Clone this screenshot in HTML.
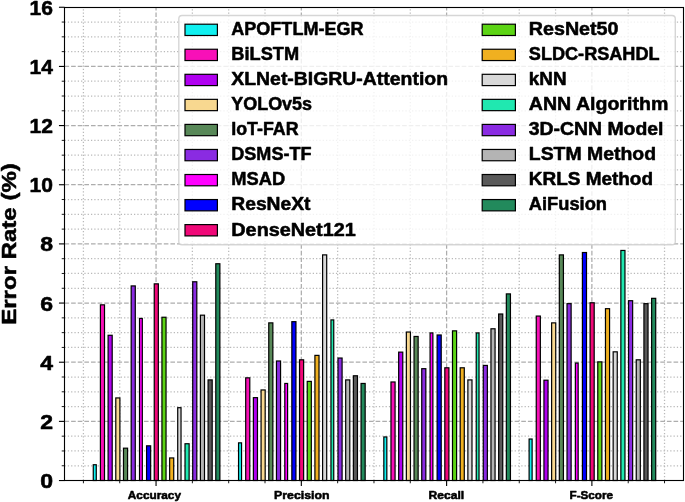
<!DOCTYPE html>
<html><head><meta charset="utf-8"><title>Error Rate</title>
<style>html,body{margin:0;padding:0;background:#fff;overflow:hidden}svg{display:block;will-change:transform}text{font-family:"Liberation Sans",sans-serif;font-weight:bold;fill:#000;stroke:#000;stroke-width:0.55px;stroke-linejoin:round}</style></head><body>
<svg width="685" height="502" viewBox="0 0 685 502">
<rect x="0" y="0" width="685" height="502" fill="#fff"/>
<g fill="none"><path d="M64.5 465.75H683.5" stroke="#b9b9b9" stroke-width="1.25" stroke-dasharray="1.25 2.06"/><path d="M64.5 450.96H683.5" stroke="#b9b9b9" stroke-width="1.25" stroke-dasharray="1.25 2.06"/><path d="M64.5 436.17H683.5" stroke="#b9b9b9" stroke-width="1.25" stroke-dasharray="1.25 2.06"/><path d="M64.5 406.59H683.5" stroke="#b9b9b9" stroke-width="1.25" stroke-dasharray="1.25 2.06"/><path d="M64.5 391.8H683.5" stroke="#b9b9b9" stroke-width="1.25" stroke-dasharray="1.25 2.06"/><path d="M64.5 377.01H683.5" stroke="#b9b9b9" stroke-width="1.25" stroke-dasharray="1.25 2.06"/><path d="M64.5 347.43H683.5" stroke="#b9b9b9" stroke-width="1.25" stroke-dasharray="1.25 2.06"/><path d="M64.5 332.64H683.5" stroke="#b9b9b9" stroke-width="1.25" stroke-dasharray="1.25 2.06"/><path d="M64.5 317.85H683.5" stroke="#b9b9b9" stroke-width="1.25" stroke-dasharray="1.25 2.06"/><path d="M64.5 288.27H683.5" stroke="#b9b9b9" stroke-width="1.25" stroke-dasharray="1.25 2.06"/><path d="M64.5 273.48H683.5" stroke="#b9b9b9" stroke-width="1.25" stroke-dasharray="1.25 2.06"/><path d="M64.5 258.69H683.5" stroke="#b9b9b9" stroke-width="1.25" stroke-dasharray="1.25 2.06"/><path d="M64.5 229.11H683.5" stroke="#b9b9b9" stroke-width="1.25" stroke-dasharray="1.25 2.06"/><path d="M64.5 214.32H683.5" stroke="#b9b9b9" stroke-width="1.25" stroke-dasharray="1.25 2.06"/><path d="M64.5 199.53H683.5" stroke="#b9b9b9" stroke-width="1.25" stroke-dasharray="1.25 2.06"/><path d="M64.5 169.95H683.5" stroke="#b9b9b9" stroke-width="1.25" stroke-dasharray="1.25 2.06"/><path d="M64.5 155.16H683.5" stroke="#b9b9b9" stroke-width="1.25" stroke-dasharray="1.25 2.06"/><path d="M64.5 140.37H683.5" stroke="#b9b9b9" stroke-width="1.25" stroke-dasharray="1.25 2.06"/><path d="M64.5 110.79H683.5" stroke="#b9b9b9" stroke-width="1.25" stroke-dasharray="1.25 2.06"/><path d="M64.5 96H683.5" stroke="#b9b9b9" stroke-width="1.25" stroke-dasharray="1.25 2.06"/><path d="M64.5 81.21H683.5" stroke="#b9b9b9" stroke-width="1.25" stroke-dasharray="1.25 2.06"/><path d="M64.5 51.63H683.5" stroke="#b9b9b9" stroke-width="1.25" stroke-dasharray="1.25 2.06"/><path d="M64.5 36.84H683.5" stroke="#b9b9b9" stroke-width="1.25" stroke-dasharray="1.25 2.06"/><path d="M64.5 22.05H683.5" stroke="#b9b9b9" stroke-width="1.25" stroke-dasharray="1.25 2.06"/><path d="M83.41 480.5V7.5" stroke="#b9b9b9" stroke-width="1.25" stroke-dasharray="1.25 2.06"/><path d="M119.73 480.5V7.5" stroke="#b9b9b9" stroke-width="1.25" stroke-dasharray="1.25 2.06"/><path d="M192.37 480.5V7.5" stroke="#b9b9b9" stroke-width="1.25" stroke-dasharray="1.25 2.06"/><path d="M228.69 480.5V7.5" stroke="#b9b9b9" stroke-width="1.25" stroke-dasharray="1.25 2.06"/><path d="M265.01 480.5V7.5" stroke="#b9b9b9" stroke-width="1.25" stroke-dasharray="1.25 2.06"/><path d="M337.65 480.5V7.5" stroke="#b9b9b9" stroke-width="1.25" stroke-dasharray="1.25 2.06"/><path d="M373.97 480.5V7.5" stroke="#b9b9b9" stroke-width="1.25" stroke-dasharray="1.25 2.06"/><path d="M410.29 480.5V7.5" stroke="#b9b9b9" stroke-width="1.25" stroke-dasharray="1.25 2.06"/><path d="M482.93 480.5V7.5" stroke="#b9b9b9" stroke-width="1.25" stroke-dasharray="1.25 2.06"/><path d="M519.25 480.5V7.5" stroke="#b9b9b9" stroke-width="1.25" stroke-dasharray="1.25 2.06"/><path d="M555.57 480.5V7.5" stroke="#b9b9b9" stroke-width="1.25" stroke-dasharray="1.25 2.06"/><path d="M628.21 480.5V7.5" stroke="#b9b9b9" stroke-width="1.25" stroke-dasharray="1.25 2.06"/><path d="M664.53 480.5V7.5" stroke="#b9b9b9" stroke-width="1.25" stroke-dasharray="1.25 2.06"/><path d="M64.5 421.38H683.5" stroke="#adadad" stroke-width="1.25" stroke-dasharray="4.62 2.00"/><path d="M64.5 362.22H683.5" stroke="#adadad" stroke-width="1.25" stroke-dasharray="4.62 2.00"/><path d="M64.5 303.06H683.5" stroke="#adadad" stroke-width="1.25" stroke-dasharray="4.62 2.00"/><path d="M64.5 243.9H683.5" stroke="#adadad" stroke-width="1.25" stroke-dasharray="4.62 2.00"/><path d="M64.5 184.74H683.5" stroke="#adadad" stroke-width="1.25" stroke-dasharray="4.62 2.00"/><path d="M64.5 125.58H683.5" stroke="#adadad" stroke-width="1.25" stroke-dasharray="4.62 2.00"/><path d="M64.5 66.42H683.5" stroke="#adadad" stroke-width="1.25" stroke-dasharray="4.62 2.00"/><path d="M156.05 480.5V7.5" stroke="#adadad" stroke-width="1.25" stroke-dasharray="4.62 2.00"/><path d="M301.33 480.5V7.5" stroke="#adadad" stroke-width="1.25" stroke-dasharray="4.62 2.00"/><path d="M446.61 480.5V7.5" stroke="#adadad" stroke-width="1.25" stroke-dasharray="4.62 2.00"/><path d="M591.89 480.5V7.5" stroke="#adadad" stroke-width="1.25" stroke-dasharray="4.62 2.00"/></g>
<g stroke="#000" stroke-width="1.2"><rect x="93.27" y="464.74" width="3" height="15.76" fill="#10f0f0"/><rect x="100.41" y="304.84" width="4.1" height="175.66" fill="#f810b8"/><rect x="108.1" y="335.28" width="4.1" height="145.22" fill="#b000f0"/><rect x="115.79" y="397.94" width="4.1" height="82.56" fill="#f8d890"/><rect x="123.48" y="448.18" width="4.1" height="32.32" fill="#588858"/><rect x="131.18" y="285.92" width="4.1" height="194.58" fill="#8a2be2"/><rect x="139.52" y="318.43" width="2.8" height="162.07" fill="#ff00ff"/><rect x="146.56" y="445.82" width="4.1" height="34.68" fill="#0000ff"/><rect x="154.25" y="283.85" width="4.1" height="196.65" fill="#f00878"/><rect x="161.94" y="317.25" width="4.1" height="163.25" fill="#5cd414"/><rect x="169.63" y="457.94" width="4.1" height="22.56" fill="#f0b020"/><rect x="177.72" y="407.69" width="3.3" height="72.81" fill="#d8d8d8"/><rect x="185.02" y="443.75" width="4.1" height="36.75" fill="#20e8b0"/><rect x="192.71" y="281.78" width="4.1" height="198.72" fill="#8a2be2"/><rect x="200.4" y="315.18" width="4.1" height="165.32" fill="#b4b4b4"/><rect x="208.09" y="379.91" width="4.1" height="100.59" fill="#595959"/><rect x="215.78" y="263.75" width="4.1" height="216.75" fill="#228a5c"/><rect x="238.55" y="442.86" width="3" height="37.64" fill="#10f0f0"/><rect x="245.69" y="377.84" width="4.1" height="102.66" fill="#f810b8"/><rect x="253.38" y="397.64" width="4.1" height="82.86" fill="#b000f0"/><rect x="261.07" y="389.96" width="4.1" height="90.54" fill="#f8d890"/><rect x="268.76" y="322.87" width="4.1" height="157.63" fill="#588858"/><rect x="276.46" y="360.99" width="4.1" height="119.51" fill="#8a2be2"/><rect x="284.8" y="383.46" width="2.8" height="97.04" fill="#ff00ff"/><rect x="291.84" y="321.68" width="4.1" height="158.82" fill="#0000ff"/><rect x="299.53" y="359.81" width="4.1" height="120.69" fill="#f00878"/><rect x="307.22" y="381.39" width="4.1" height="99.11" fill="#5cd414"/><rect x="314.91" y="355.38" width="4.1" height="125.12" fill="#f0b020"/><rect x="322.6" y="254.89" width="4.1" height="225.61" fill="#d8d8d8"/><rect x="330.95" y="319.91" width="2.8" height="160.59" fill="#20e8b0"/><rect x="337.99" y="358.04" width="4.1" height="122.46" fill="#8a2be2"/><rect x="345.68" y="379.91" width="4.1" height="100.59" fill="#b4b4b4"/><rect x="353.37" y="375.77" width="4.1" height="104.73" fill="#595959"/><rect x="361.06" y="383.46" width="4.1" height="97.04" fill="#228a5c"/><rect x="383.83" y="436.95" width="3" height="43.55" fill="#10f0f0"/><rect x="390.97" y="381.98" width="4.1" height="98.52" fill="#f810b8"/><rect x="398.66" y="352.13" width="4.1" height="128.37" fill="#b000f0"/><rect x="406.35" y="332.03" width="4.1" height="148.47" fill="#f8d890"/><rect x="414.04" y="336.46" width="4.1" height="144.04" fill="#588858"/><rect x="421.74" y="368.68" width="4.1" height="111.82" fill="#8a2be2"/><rect x="430.08" y="332.92" width="2.8" height="147.58" fill="#ff00ff"/><rect x="437.12" y="334.98" width="4.1" height="145.52" fill="#0000ff"/><rect x="444.81" y="367.79" width="4.1" height="112.71" fill="#f00878"/><rect x="452.5" y="330.85" width="4.1" height="149.65" fill="#5cd414"/><rect x="460.19" y="367.79" width="4.1" height="112.71" fill="#f0b020"/><rect x="467.88" y="379.91" width="4.1" height="100.59" fill="#d8d8d8"/><rect x="476.23" y="332.92" width="2.8" height="147.58" fill="#20e8b0"/><rect x="483.27" y="365.43" width="4.1" height="115.07" fill="#8a2be2"/><rect x="490.96" y="328.78" width="4.1" height="151.72" fill="#b4b4b4"/><rect x="498.65" y="314" width="4.1" height="166.5" fill="#595959"/><rect x="506.34" y="293.9" width="4.1" height="186.6" fill="#228a5c"/><rect x="529.11" y="439.02" width="3" height="41.48" fill="#10f0f0"/><rect x="536.25" y="316.07" width="4.1" height="164.43" fill="#f810b8"/><rect x="543.94" y="380.21" width="4.1" height="100.29" fill="#b000f0"/><rect x="551.63" y="322.87" width="4.1" height="157.63" fill="#f8d890"/><rect x="559.32" y="254.89" width="4.1" height="225.61" fill="#588858"/><rect x="567.02" y="303.66" width="4.1" height="176.84" fill="#8a2be2"/><rect x="575.36" y="363.06" width="2.8" height="117.44" fill="#ff00ff"/><rect x="582.4" y="252.52" width="4.1" height="227.98" fill="#0000ff"/><rect x="590.09" y="302.77" width="4.1" height="177.73" fill="#f00878"/><rect x="597.78" y="361.88" width="4.1" height="118.62" fill="#5cd414"/><rect x="605.47" y="308.68" width="4.1" height="171.82" fill="#f0b020"/><rect x="613.16" y="351.83" width="4.1" height="128.67" fill="#d8d8d8"/><rect x="620.86" y="250.45" width="4.1" height="230.05" fill="#20e8b0"/><rect x="628.55" y="300.7" width="4.1" height="179.8" fill="#8a2be2"/><rect x="636.24" y="359.81" width="4.1" height="120.69" fill="#b4b4b4"/><rect x="643.93" y="303.66" width="4.1" height="176.84" fill="#595959"/><rect x="651.62" y="298.34" width="4.1" height="182.16" fill="#228a5c"/></g>
<g stroke="#000" fill="none"><path d="M64.5 480.54H58.94" stroke-width="1.11"/><path d="M64.5 465.75H61.72" stroke-width="0.9"/><path d="M64.5 450.96H61.72" stroke-width="0.9"/><path d="M64.5 436.17H61.72" stroke-width="0.9"/><path d="M64.5 421.38H58.94" stroke-width="1.11"/><path d="M64.5 406.59H61.72" stroke-width="0.9"/><path d="M64.5 391.8H61.72" stroke-width="0.9"/><path d="M64.5 377.01H61.72" stroke-width="0.9"/><path d="M64.5 362.22H58.94" stroke-width="1.11"/><path d="M64.5 347.43H61.72" stroke-width="0.9"/><path d="M64.5 332.64H61.72" stroke-width="0.9"/><path d="M64.5 317.85H61.72" stroke-width="0.9"/><path d="M64.5 303.06H58.94" stroke-width="1.11"/><path d="M64.5 288.27H61.72" stroke-width="0.9"/><path d="M64.5 273.48H61.72" stroke-width="0.9"/><path d="M64.5 258.69H61.72" stroke-width="0.9"/><path d="M64.5 243.9H58.94" stroke-width="1.11"/><path d="M64.5 229.11H61.72" stroke-width="0.9"/><path d="M64.5 214.32H61.72" stroke-width="0.9"/><path d="M64.5 199.53H61.72" stroke-width="0.9"/><path d="M64.5 184.74H58.94" stroke-width="1.11"/><path d="M64.5 169.95H61.72" stroke-width="0.9"/><path d="M64.5 155.16H61.72" stroke-width="0.9"/><path d="M64.5 140.37H61.72" stroke-width="0.9"/><path d="M64.5 125.58H58.94" stroke-width="1.11"/><path d="M64.5 110.79H61.72" stroke-width="0.9"/><path d="M64.5 96H61.72" stroke-width="0.9"/><path d="M64.5 81.21H61.72" stroke-width="0.9"/><path d="M64.5 66.42H58.94" stroke-width="1.11"/><path d="M64.5 51.63H61.72" stroke-width="0.9"/><path d="M64.5 36.84H61.72" stroke-width="0.9"/><path d="M64.5 22.05H61.72" stroke-width="0.9"/><path d="M64.5 7.26H58.94" stroke-width="1.11"/><path d="M83.41 480.5V483.28" stroke-width="0.9"/><path d="M119.73 480.5V483.28" stroke-width="0.9"/><path d="M156.05 480.5V486.06" stroke-width="1.11"/><path d="M192.37 480.5V483.28" stroke-width="0.9"/><path d="M228.69 480.5V483.28" stroke-width="0.9"/><path d="M265.01 480.5V483.28" stroke-width="0.9"/><path d="M301.33 480.5V486.06" stroke-width="1.11"/><path d="M337.65 480.5V483.28" stroke-width="0.9"/><path d="M373.97 480.5V483.28" stroke-width="0.9"/><path d="M410.29 480.5V483.28" stroke-width="0.9"/><path d="M446.61 480.5V486.06" stroke-width="1.11"/><path d="M482.93 480.5V483.28" stroke-width="0.9"/><path d="M519.25 480.5V483.28" stroke-width="0.9"/><path d="M555.57 480.5V483.28" stroke-width="0.9"/><path d="M591.89 480.5V486.06" stroke-width="1.11"/><path d="M628.21 480.5V483.28" stroke-width="0.9"/><path d="M664.53 480.5V483.28" stroke-width="0.9"/></g>
<rect x="64.5" y="7.5" width="619" height="473" fill="none" stroke="#000" stroke-width="1.11"/>
<text x="53.1" y="488.04" font-size="20.2" text-anchor="end" textLength="12.8" lengthAdjust="spacingAndGlyphs">0</text>
<text x="53.1" y="428.88" font-size="20.2" text-anchor="end" textLength="12.8" lengthAdjust="spacingAndGlyphs">2</text>
<text x="53.1" y="369.72" font-size="20.2" text-anchor="end" textLength="12.8" lengthAdjust="spacingAndGlyphs">4</text>
<text x="53.1" y="310.56" font-size="20.2" text-anchor="end" textLength="12.8" lengthAdjust="spacingAndGlyphs">6</text>
<text x="53.1" y="251.4" font-size="20.2" text-anchor="end" textLength="12.8" lengthAdjust="spacingAndGlyphs">8</text>
<text x="52.9" y="192.24" font-size="20.2" text-anchor="end" textLength="23.4" lengthAdjust="spacingAndGlyphs">10</text>
<text x="52.9" y="133.08" font-size="20.2" text-anchor="end" textLength="23.4" lengthAdjust="spacingAndGlyphs">12</text>
<text x="52.9" y="73.92" font-size="20.2" text-anchor="end" textLength="23.4" lengthAdjust="spacingAndGlyphs">14</text>
<text x="52.9" y="14.76" font-size="20.2" text-anchor="end" textLength="23.4" lengthAdjust="spacingAndGlyphs">16</text>
<text x="154.4" y="499.4" font-size="11.6" text-anchor="middle" textLength="53.2" lengthAdjust="spacingAndGlyphs">Accuracy</text>
<text x="301.8" y="499.4" font-size="11.6" text-anchor="middle" textLength="55.4" lengthAdjust="spacingAndGlyphs">Precision</text>
<text x="446.4" y="499.4" font-size="11.6" text-anchor="middle" textLength="35.6" lengthAdjust="spacingAndGlyphs">Recall</text>
<text x="591.3" y="499.4" font-size="11.6" text-anchor="middle" textLength="43.6" lengthAdjust="spacingAndGlyphs">F-Score</text>
<text transform="translate(15.6 244.0) rotate(-90)" font-size="20.2" text-anchor="middle" textLength="161.5" lengthAdjust="spacingAndGlyphs">Error Rate (%)</text>
<rect x="178.8" y="15.5" width="496.5" height="229.3" rx="3.3" ry="3.3" fill="#fff" fill-opacity="0.8" stroke="#ccc" stroke-opacity="0.8" stroke-width="1.39"/>
<rect x="185" y="24.2" width="32.4" height="11.3" fill="#10f0f0" stroke="#000" stroke-width="1.2"/>
<text x="231.3" y="35.1" font-size="18.9" textLength="132.2" lengthAdjust="spacingAndGlyphs">APOFTLM-EGR</text>
<rect x="185" y="49.25" width="32.4" height="11.3" fill="#f810b8" stroke="#000" stroke-width="1.2"/>
<text x="231.3" y="60.15" font-size="18.9" textLength="67.8" lengthAdjust="spacingAndGlyphs">BiLSTM</text>
<rect x="185" y="74.3" width="32.4" height="11.3" fill="#b000f0" stroke="#000" stroke-width="1.2"/>
<text x="231.3" y="85.2" font-size="18.9" textLength="216.7" lengthAdjust="spacingAndGlyphs">XLNet-BIGRU-Attention</text>
<rect x="185" y="99.35" width="32.4" height="11.3" fill="#f8d890" stroke="#000" stroke-width="1.2"/>
<text x="231.3" y="110.25" font-size="18.9" textLength="80.7" lengthAdjust="spacingAndGlyphs">YOLOv5s</text>
<rect x="185" y="124.4" width="32.4" height="11.3" fill="#588858" stroke="#000" stroke-width="1.2"/>
<text x="231.3" y="135.3" font-size="18.9" textLength="67.2" lengthAdjust="spacingAndGlyphs">IoT-FAR</text>
<rect x="185" y="149.45" width="32.4" height="11.3" fill="#8a2be2" stroke="#000" stroke-width="1.2"/>
<text x="231.3" y="160.35" font-size="18.9" textLength="80.2" lengthAdjust="spacingAndGlyphs">DSMS-TF</text>
<rect x="185" y="174.5" width="32.4" height="11.3" fill="#ff00ff" stroke="#000" stroke-width="1.2"/>
<text x="231.3" y="185.4" font-size="18.9" textLength="53.8" lengthAdjust="spacingAndGlyphs">MSAD</text>
<rect x="185" y="199.55" width="32.4" height="11.3" fill="#0000ff" stroke="#000" stroke-width="1.2"/>
<text x="231.3" y="210.45" font-size="18.9" textLength="79.2" lengthAdjust="spacingAndGlyphs">ResNeXt</text>
<rect x="185" y="224.6" width="32.4" height="11.3" fill="#f00878" stroke="#000" stroke-width="1.2"/>
<text x="231.3" y="235.5" font-size="18.9" textLength="124.5" lengthAdjust="spacingAndGlyphs">DenseNet121</text>
<rect x="482.2" y="24.2" width="33.2" height="11.3" fill="#5cd414" stroke="#000" stroke-width="1.2"/>
<text x="528.8" y="35.1" font-size="18.9" textLength="89.7" lengthAdjust="spacingAndGlyphs">ResNet50</text>
<rect x="482.2" y="49.25" width="33.2" height="11.3" fill="#f0b020" stroke="#000" stroke-width="1.2"/>
<text x="528.8" y="60.15" font-size="18.9" textLength="130.8" lengthAdjust="spacingAndGlyphs">SLDC-RSAHDL</text>
<rect x="482.2" y="74.3" width="33.2" height="11.3" fill="#d8d8d8" stroke="#000" stroke-width="1.2"/>
<text x="528.8" y="85.2" font-size="18.9" textLength="37.7" lengthAdjust="spacingAndGlyphs">kNN</text>
<rect x="482.2" y="99.35" width="33.2" height="11.3" fill="#20e8b0" stroke="#000" stroke-width="1.2"/>
<text x="528.8" y="110.25" font-size="18.9" textLength="139.5" lengthAdjust="spacingAndGlyphs">ANN Algorithm</text>
<rect x="482.2" y="124.4" width="33.2" height="11.3" fill="#8a2be2" stroke="#000" stroke-width="1.2"/>
<text x="528.8" y="135.3" font-size="18.9" textLength="134.7" lengthAdjust="spacingAndGlyphs">3D-CNN Model</text>
<rect x="482.2" y="149.45" width="33.2" height="11.3" fill="#b4b4b4" stroke="#000" stroke-width="1.2"/>
<text x="528.8" y="160.35" font-size="18.9" textLength="127.2" lengthAdjust="spacingAndGlyphs">LSTM Method</text>
<rect x="482.2" y="174.5" width="33.2" height="11.3" fill="#595959" stroke="#000" stroke-width="1.2"/>
<text x="528.8" y="185.4" font-size="18.9" textLength="124.2" lengthAdjust="spacingAndGlyphs">KRLS Method</text>
<rect x="482.2" y="199.55" width="33.2" height="11.3" fill="#228a5c" stroke="#000" stroke-width="1.2"/>
<text x="528.8" y="210.45" font-size="18.9" textLength="78.2" lengthAdjust="spacingAndGlyphs">AiFusion</text>
</svg></body></html>
